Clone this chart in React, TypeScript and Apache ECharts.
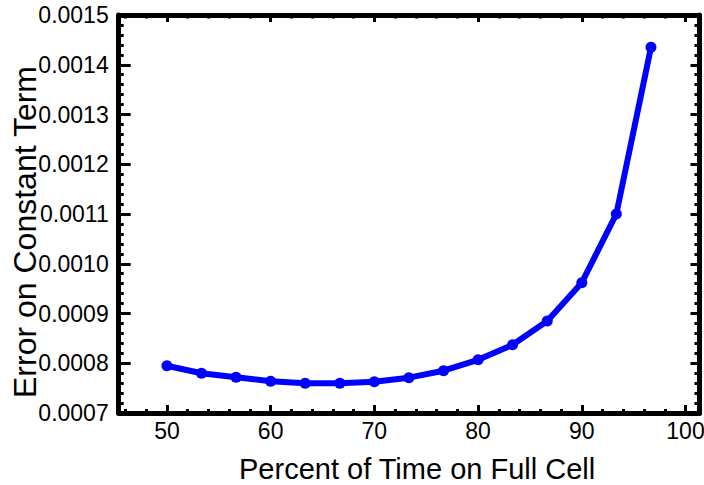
import React, { useEffect, useRef } from "react";
import * as echarts from "echarts";

const percentTime = [50, 53.33, 56.67, 60, 63.33, 66.67, 70, 73.33, 76.67, 80, 83.33, 86.67, 90, 93.33, 96.67];
const errorConstant = [
  0.000795, 0.00078, 0.000772, 0.000764, 0.00076, 0.00076, 0.000763, 0.000771,
  0.000785, 0.000807, 0.000837, 0.000885, 0.000962, 0.0011, 0.001435,
];
const xMajorTicks = [50, 60, 70, 80, 90, 100];
const xMinorTicks = [46, 48, 52, 54, 56, 58, 62, 64, 66, 68, 72, 74, 76, 78, 82, 84, 86, 88, 92, 94, 96, 98];

const FONT = "'Liberation Sans', Arial, Helvetica, sans-serif";
const X_MIN = 45.35;
const X_MAX = 101.35;
const Y_MIN = 0.0007;
const Y_MAX = 0.0015;

export default function App() {
  const ref = useRef<HTMLDivElement>(null);

  useEffect(() => {
    if (!ref.current) return;
    const chart = echarts.init(ref.current, undefined, { renderer: "svg" });
    const frameLine = { show: true, onZero: false, lineStyle: { color: "#000", width: 5 } };
    const noLine = { show: false };
    const xBase = (position: string, extra: any) => ({
      type: "value",
      gridIndex: 0,
      position,
      min: X_MIN,
      max: X_MAX,
      splitLine: { show: false },
      ...extra,
    });
    const option: any = {
      animation: false,
      grid: { left: 118.7, right: 4.5, top: 15, bottom: 72, containLabel: false, outerBoundsMode: "none" },
      xAxis: [
        xBase("bottom", {
          axisLine: frameLine,
          axisTick: { show: true, inside: true, length: 8, customValues: xMajorTicks, lineStyle: { color: "#000", width: 3 } },
          axisLabel: {
            show: true,
            customValues: xMajorTicks,
            margin: 6,
            color: "#000",
            fontSize: 23,
            fontFamily: FONT,
          },
          name: "Percent of Time on Full Cell",
          nameLocation: "middle",
          nameGap: 41,
          nameMoveOverlap: false,
          nameTextStyle: { color: "#000", fontSize: 29, fontFamily: FONT, padding: [0, 0, 0, 16] },
        }),
        xBase("bottom", {
          axisLine: noLine,
          axisTick: { show: true, inside: true, length: 4, customValues: xMinorTicks, lineStyle: { color: "#000", width: 3 } },
          axisLabel: { show: false },
        }),
        xBase("top", {
          axisLine: frameLine,
          axisTick: { show: true, inside: true, length: 7, customValues: xMajorTicks, lineStyle: { color: "#000", width: 3 } },
          axisLabel: { show: false },
        }),
        xBase("top", {
          axisLine: noLine,
          axisTick: { show: true, inside: true, length: 3.5, customValues: xMinorTicks, lineStyle: { color: "#000", width: 3 } },
          axisLabel: { show: false },
        }),
      ],
      yAxis: [
        {
          type: "value",
          position: "left",
          min: Y_MIN,
          max: Y_MAX,
          interval: 0.0001,
          splitLine: { show: false },
          axisLine: frameLine,
          axisTick: { show: true, inside: true, length: 12, lineStyle: { color: "#000", width: 3 } },
          minorTick: { show: true, splitNumber: 5, length: 5, lineStyle: { color: "#000", width: 3 } },
          axisLabel: {
            show: true,
            margin: 10,
            color: "#000",
            fontSize: 23,
            fontFamily: FONT,
            formatter: (v: number) => v.toFixed(4),
          },
          name: "Error on Constant Term",
          nameLocation: "middle",
          nameRotate: 90,
          nameGap: 78,
          nameMoveOverlap: false,
          nameTextStyle: { color: "#000", fontSize: 32, fontFamily: FONT, padding: [0, 36, 0, 0] },
        },
        {
          type: "value",
          position: "right",
          min: Y_MIN,
          max: Y_MAX,
          interval: 0.0001,
          splitLine: { show: false },
          axisLine: frameLine,
          axisTick: { show: true, inside: true, length: 9, lineStyle: { color: "#000", width: 3 } },
          minorTick: { show: true, splitNumber: 5, length: 5, lineStyle: { color: "#000", width: 3 } },
          axisLabel: { show: false },
        },
      ],
      series: [
        {
          type: "line",
          xAxisIndex: 0,
          yAxisIndex: 0,
          data: percentTime.map((x, i) => [x, errorConstant[i]]),
          symbol: "circle",
          symbolSize: 11,
          lineStyle: { color: "#0000ff", width: 6 },
          itemStyle: { color: "#0000ff" },
        },
      ],
    };
    chart.setOption(option);
    return () => chart.dispose();
  }, []);

  return (
    <div
      ref={ref}
      style={{ position: "fixed", left: 0, top: 0, width: 704, height: 485, background: "#fff" }}
    />
  );
}
